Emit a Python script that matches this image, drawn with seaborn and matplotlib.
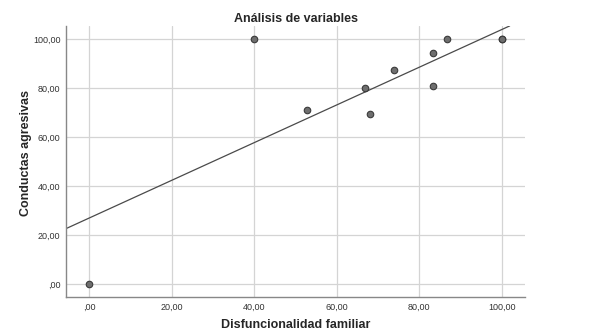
import numpy as np
import pandas as pd
import matplotlib
matplotlib.use("Agg")
import matplotlib.pyplot as plt
import seaborn as sns

# Datos
disfuncionalidad = [0.0, 40.0, 52.8, 66.8, 68.0, 73.8, 83.3, 83.3, 86.7, 100.0, 100.0]
conductas = [0.0, 100.0, 71.0, 79.9, 69.3, 87.2, 94.2, 80.7, 100.0, 100.0, 100.0]

# Recta de ajuste
intercepto = 26.9
pendiente = 0.77
x_ajuste = [-5.6, 101.9]

ticks = [0, 20, 40, 60, 80, 100]
tick_labels = [",00", "20,00", "40,00", "60,00", "80,00", "100,00"]

df = pd.DataFrame({"Disfuncionalidad familiar": disfuncionalidad,
                   "Conductas agresivas": conductas})
df_fit = pd.DataFrame({"x": x_ajuste,
                       "y": [intercepto + pendiente * v for v in x_ajuste]})

sns.set_style("white")
plt.rcParams["font.family"] = ["Liberation Sans", "DejaVu Sans"]

fig = plt.figure(figsize=(6, 3.34), dpi=100)
ax = fig.add_axes([0.11, 0.111, 0.765, 0.811])

ax.grid(True, color="#d4d4d4", linewidth=0.9)
ax.set_axisbelow(True)

sns.lineplot(data=df_fit, x="x", y="y", ax=ax, color="#4a4a4a", linewidth=0.9)
sns.scatterplot(data=df, x="Disfuncionalidad familiar", y="Conductas agresivas", ax=ax,
                s=22, color="#6e6e6e", edgecolor="#3a3a3a", linewidth=0.8, zorder=3)

ax.set_xlim(-5.6, 105.6)
ax.set_ylim(-5.3, 105.3)
ax.set_xticks(ticks)
ax.set_xticklabels(tick_labels)
ax.set_yticks(ticks)
ax.set_yticklabels(tick_labels)
ax.tick_params(axis="both", labelsize=6.5, colors="#333333", length=0, pad=4)

for s in ["top", "right"]:
    ax.spines[s].set_visible(False)
for s in ["left", "bottom"]:
    ax.spines[s].set_color("#888888")
    ax.spines[s].set_linewidth(1.0)

ax.set_title("Análisis de variables", fontsize=9, fontweight="bold", pad=3)
ax.set_xlabel("Disfuncionalidad familiar", fontsize=9, fontweight="bold")
ax.set_ylabel("Conductas agresivas", fontsize=9, fontweight="bold")
ax.xaxis.set_label_coords(0.5, -0.082)
ax.yaxis.set_label_coords(-0.075, 0.53)

fig.savefig("out.png", dpi=100)
